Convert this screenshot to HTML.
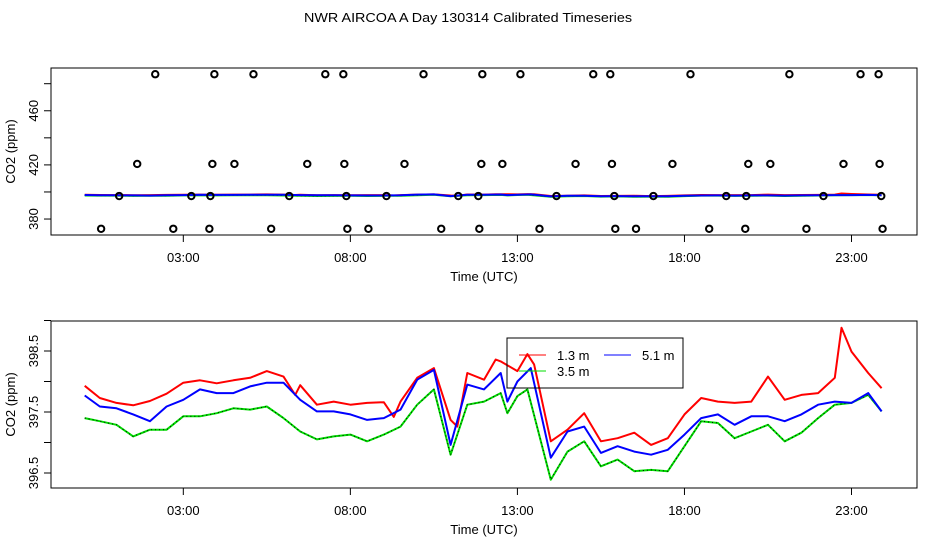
<!DOCTYPE html>
<html><head><meta charset="utf-8"><style>
html,body{margin:0;padding:0;background:#fff;}
svg{display:block;font-family:"Liberation Sans",sans-serif;}
</style></head><body>
<svg id="chart" width="936" height="540" viewBox="0 0 936 540" xmlns="http://www.w3.org/2000/svg">
<rect x="0" y="0" width="936" height="540" fill="#fff"/>
<text x="468" y="22" font-size="13" text-anchor="middle" textLength="328" lengthAdjust="spacingAndGlyphs">NWR AIRCOA A  Day 130314  Calibrated Timeseries</text>
<g id="top"></g>
<g id="bot"></g>
</svg>
<script>
// ---- data ----
const redHours = [0.05,0.5,1,1.5,2,2.5,3,3.5,4,4.5,5,5.5,6,6.35,6.5,7,7.5,8,8.5,9,9.3,9.5,10,10.5,11,11.2,11.5,12,12.35,12.5,13,13.3,13.5,14,14.5,15,15.5,16,16.5,17,17.5,18,18.5,19,19.5,20,20.5,21,21.5,22,22.5,22.7,23,23.5,23.9];
const redVals  = [397.93,397.73,397.65,397.61,397.68,397.80,397.98,398.02,397.97,398.02,398.06,398.17,398.08,397.78,397.94,397.62,397.67,397.62,397.65,397.66,397.42,397.67,398.06,398.22,397.37,397.26,398.14,398.03,398.36,398.33,398.17,398.45,398.28,397.02,397.21,397.48,397.02,397.07,397.16,396.96,397.07,397.46,397.73,397.67,397.65,397.67,398.08,397.70,397.78,397.81,398.06,398.88,398.49,398.14,397.89];
const blueHours = [0.05,0.5,1,1.5,2,2.5,3,3.5,4,4.5,5,5.5,6,6.5,7,7.5,8,8.5,9,9.5,10,10.5,11,11.5,12,12.5,12.7,13,13.4,14,14.5,15,15.5,16,16.5,17,17.5,18,18.5,19,19.5,20,20.5,21,21.5,22,22.5,23,23.5,23.9];
const blueVals  = [397.77,397.59,397.56,397.46,397.35,397.59,397.70,397.87,397.81,397.81,397.92,397.98,397.98,397.70,397.51,397.51,397.46,397.37,397.40,397.54,398.03,398.19,396.96,397.95,397.87,398.14,397.67,398.00,398.22,396.75,397.18,397.26,396.83,396.94,396.85,396.80,396.88,397.13,397.40,397.46,397.29,397.43,397.43,397.35,397.46,397.62,397.67,397.65,397.81,397.51];
const greenHours = [0.05,0.5,1,1.5,2,2.5,3,3.5,4,4.5,5,5.5,6,6.5,7,7.5,8,8.5,9,9.5,10,10.5,11,11.5,12,12.5,12.7,13,13.3,14,14.5,15,15.5,16,16.5,17,17.5,18,18.5,19,19.5,20,20.5,21,21.5,22,22.5,23,23.5,23.9];
const greenVals  = [397.40,397.35,397.29,397.10,397.21,397.21,397.43,397.43,397.48,397.56,397.54,397.59,397.40,397.18,397.05,397.10,397.13,397.02,397.13,397.26,397.62,397.87,396.80,397.62,397.67,397.81,397.48,397.76,397.87,396.39,396.85,397.02,396.61,396.72,396.53,396.55,396.53,396.94,397.35,397.32,397.07,397.18,397.29,397.02,397.16,397.40,397.62,397.65,397.78,397.51];
const ptHours = [2.16,3.93,5.10,7.25,7.79,10.19,11.95,13.09,15.27,15.78,18.18,21.14,23.27,23.81,
 1.62,3.87,4.53,6.71,7.82,9.62,11.92,12.55,14.74,15.83,17.64,19.91,20.57,22.76,23.84,
 1.08,3.24,3.81,6.17,7.88,9.08,11.23,11.83,14.17,15.90,17.07,19.25,19.85,22.16,23.89,
 0.54,2.70,3.78,5.63,7.91,8.54,10.72,11.86,13.66,15.93,16.55,18.74,19.82,21.65,23.93];
const ptVals = [487,487,487,487,487,487,487,487,487,487,487,487,487,487,
 420.7,420.7,420.7,420.7,420.7,420.7,420.7,420.7,420.7,420.7,420.7,420.7,420.7,420.7,420.7,
 397,397,397,397,397,397,397,397,397,397,397,397,397,397,397,
 372.8,372.8,372.8,372.8,372.8,372.8,372.8,372.8,372.8,372.8,372.8,372.8,372.8,372.8,372.8];
const xTickHours = [3,8,13,18,23];
const xTickLabels = ["03:00","08:00","13:00","18:00","23:00"];
const topYTicks = [380,400,420,440,460,480];
const topYLabels = ["380","","420","","460",""];
const botYTicks = [396.5,397,397.5,398,398.5,399];
const botYLabels = ["396.5","","397.5","","398.5",""];

const NS="http://www.w3.org/2000/svg";
function mk(tag, attrs, parent){const e=document.createElementNS(NS,tag);for(const k in attrs)e.setAttribute(k,attrs[k]);parent.appendChild(e);return e;}
const X0=51,X1=917,H0=-0.96,H1=24.96;
function xs(h){return X0+(h-H0)/(H1-H0)*(X1-X0);}

function panel(g, top, bot, ymin, ymax, yt, yl, showPts){
  const ys=v=>bot-(v-ymin)/(ymax-ymin)*(bot-top);
  const box=mk('rect',{x:X0,y:top,width:X1-X0,height:bot-top,fill:'none',stroke:'#000','stroke-width':1},g);
  
  
  xTickHours.forEach((h,i)=>{
    const x=xs(h);
    const t=mk('line',{x1:x,x2:x,y1:bot,y2:bot+7,stroke:'#000'},g);
    
    
    const l=mk('text',{x:x,y:bot+27,'font-size':13,'text-anchor':'middle'},g);
    l.textContent=xTickLabels[i];
    
    
  });
  yt.forEach((v,i)=>{
    const y=ys(v);
    const t=mk('line',{x1:X0-7,x2:X0,y1:y,y2:y,stroke:'#000'},g);
    
    
    if(yl[i]){
      const l=mk('text',{x:0,y:0,'font-size':13,'text-anchor':'middle',transform:`translate(${X0-13},${y}) rotate(-90)`},g);
      l.textContent=yl[i];
      
      
    }
  });
  const xl=mk('text',{x:484,y:bot+46,'font-size':13,'text-anchor':'middle'},g);
  xl.textContent='Time (UTC)';
  
  
  const yl2=mk('text',{x:0,y:0,'font-size':13,'text-anchor':'middle',transform:`translate(15,${(top+bot)/2}) rotate(-90)`},g);
  yl2.textContent='CO2 (ppm)';
  
  
  const line=(hs,vs,col,name)=>{
    const d=hs.map((h,i)=>(i?'L':'M')+xs(h).toFixed(1)+','+ys(vs[i]).toFixed(1)).join(' ');
    const p=mk('path',{d:d,fill:'none',stroke:col,'stroke-width':2,'stroke-linejoin':'round'},g);
    
    
    return d;
  };
  line(redHours,redVals,'#f00','series-1-3m');
  const gd=line(greenHours,greenVals,'#0d0','series-3-5m');
  const dot=mk('path',{d:gd,fill:'none',stroke:'#000','stroke-width':1,'stroke-dasharray':'1,3'},g);
  
  
  line(blueHours,blueVals,'#00f','series-5-1m');
  if(showPts){
    ptHours.forEach((h,i)=>{
      const c=mk('circle',{cx:xs(h),cy:ys(ptVals[i]),r:3.2,fill:'none',stroke:'#000','stroke-width':2},g);
      
      
    });
  }
}
panel(document.getElementById('top'),68,235,368.2,491.6,topYTicks,topYLabels,true);
panel(document.getElementById('bot'),321,488,396.254,398.992,botYTicks,botYLabels,false);

// legend
const bg=document.getElementById('bot');
const lg=mk('g',{},bg);


mk('rect',{x:507,y:338,width:176,height:50,fill:'none',stroke:'#000'},lg);
const ent=[[519,355,'#f00','1.3 m'],[604,355,'#00f','5.1 m'],[519,371,'#0d0','3.5 m']];
ent.forEach(e=>{
  const li=mk('line',{x1:e[0],x2:e[0]+27,y1:e[1],y2:e[1],stroke:e[2],'stroke-width':1},lg);
  
  
  const t=mk('text',{x:e[0]+38,y:e[1]+5,'font-size':13},lg);
  t.textContent=e[3];
  
  
});
</script>
</body></html>
